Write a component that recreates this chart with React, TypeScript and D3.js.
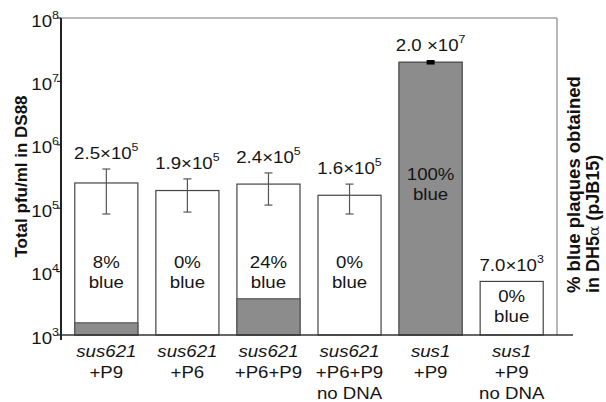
import React from "react";
import * as d3 from "d3";

const strains = ["sus621", "sus621", "sus621", "sus621", "sus1", "sus1"];
const additions = ["+P9", "+P6", "+P6+P9", "+P6+P9", "+P9", "+P9"];
const notes = ["", "", "", "no DNA", "", "no DNA"];
const totalPfu = [2.5e5, 1.9e5, 2.4e5, 1.6e5, 2.0e7, 7.0e3];
const errHigh = [4.15e5, 2.9e5, 3.6e5, 2.4e5, 2.08e7, null];
const errLow = [8.1e4, 8.7e4, 1.12e5, 8.1e4, 1.93e7, null];
const mantissas = ["2.5", "1.9", "2.4", "1.6", "2.0 ", "7.0"];
const exponents = [5, 5, 5, 5, 7, 3];
const percentBlue = [8, 0, 24, 0, 100, 0];
const yTicks = [1e3, 1e4, 1e5, 1e6, 1e7, 1e8];

const W = 606;
const H = 402;
const left = 61;
const right = 557;
const top = 18;
const bottom = 335;
const FONT = "'Liberation Sans', Arial, Helvetica, sans-serif";
const SX = 1.13;

function T(props: {
  x: number;
  y: number;
  anchor?: "start" | "middle" | "end";
  size: number;
  italic?: boolean;
  children: React.ReactNode;
}) {
  return (
    <text
      transform={`translate(${props.x},${props.y}) scale(${SX},1)`}
      textAnchor={props.anchor ?? "middle"}
      fontSize={props.size}
      fontStyle={props.italic ? "italic" : "normal"}
      fill="#151515"
    >
      {props.children}
    </text>
  );
}

export default function App() {
  const y = d3.scaleLog().domain([1e3, 1e8]).range([bottom, top]);
  const idx = totalPfu.map((_, i) => String(i));
  const x = d3
    .scaleBand()
    .domain(idx)
    .range([left, right])
    .paddingInner(0.222)
    .paddingOuter(0.17);
  const bw = x.bandwidth();
  const fill = "#8c8c8c";

  return (
    <div style={{ position: "absolute", left: 0, top: 0 }}>
      <svg width={W} height={H} style={{ display: "block", fontFamily: FONT }}>
        <rect x={0} y={0} width={W} height={H} fill="#fff" />
        <line x1={left} x2={right} y1={top} y2={top} stroke="#777" strokeWidth={1.2} />
        <line x1={right} x2={right} y1={top} y2={bottom} stroke="#888" strokeWidth={1.2} />

        {totalPfu.map((v, i) => {
          const x0 = x(String(i))!;
          const cx = x0 + bw / 2;
          const yt = y(v);
          const h = bottom - yt;
          const shadeH = (percentBlue[i] / 100) * h;
          const eh = errHigh[i];
          const el = errLow[i];
          const labelY = (eh != null ? y(eh) : yt) - 10;
          let inY: number;
          if (h > 200) inY = yt + 0.43 * h;
          else if (h < 80) inY = yt + 21;
          else inY = y(1.15e4);
          return (
            <g key={i}>
              <rect x={x0} y={yt} width={bw} height={h} fill="#fff" stroke="#444" strokeWidth={1.2} />
              {shadeH > 0 && (
                <rect x={x0} y={bottom - shadeH} width={bw} height={shadeH} fill={fill} stroke="#555" strokeWidth={1.2} />
              )}
              {eh != null && el != null && (
                <g stroke={percentBlue[i] === 100 ? "#000" : "#555"} strokeWidth={percentBlue[i] === 100 ? 2.5 : 1.2}>
                  <line x1={cx} x2={cx} y1={y(eh)} y2={y(el)} />
                  <line x1={cx - 4} x2={cx + 4} y1={y(eh)} y2={y(eh)} />
                  <line x1={cx - 4} x2={cx + 4} y1={y(el)} y2={y(el)} />
                </g>
              )}
              <T x={cx} y={labelY} size={16.5}>
                {mantissas[i]}×10
                <tspan fontSize={11} dy={-8}>{exponents[i]}</tspan>
              </T>
              <T x={cx} y={inY} size={16.5}>{percentBlue[i]}%</T>
              <T x={cx} y={inY + 20} size={16.5}>blue</T>
              <T x={cx} y={357} size={16.5} italic>{strains[i]}</T>
              <T x={cx} y={378} size={16.5}>{additions[i]}</T>
              {notes[i] && <T x={cx} y={399} size={16.5}>{notes[i]}</T>}
            </g>
          );
        })}

        <line x1={left} x2={573} y1={bottom} y2={bottom} stroke="#333" strokeWidth={1.5} />
        <line x1={left} x2={left} y1={top} y2={bottom + 5} stroke="#222" strokeWidth={2} />
        {yTicks.map((t) => (
          <g key={t}>
            <line x1={left - 4} x2={left} y1={y(t)} y2={y(t)} stroke="#222" strokeWidth={1.2} />
            <T x={52} y={y(t) + 8.5} anchor="end" size={16.5}>10</T>
            <T x={52} y={y(t) + 0.5} anchor="start" size={11}>{Math.round(Math.log10(t))}</T>
          </g>
        ))}

        <text
          transform={`translate(27, ${(top + bottom) / 2}) rotate(-90)`}
          textAnchor="middle"
          fontSize={17}
          fontWeight="bold"
          fill="#111"
        >
          Total pfu/ml in DS88
        </text>
        <text transform={`translate(580, 293) rotate(-90)`} fontSize={18.5} fontWeight="bold" fill="#111">
          % blue plaques obtained
        </text>
        <text transform={`translate(599, 293) rotate(-90)`} fontSize={18} fontWeight="bold" fill="#111">
          in DH5
          <tspan fontWeight="normal" fontFamily="'DejaVu Serif', serif" fontSize={15}>α</tspan> (pJB15)
        </text>
      </svg>
    </div>
  );
}
